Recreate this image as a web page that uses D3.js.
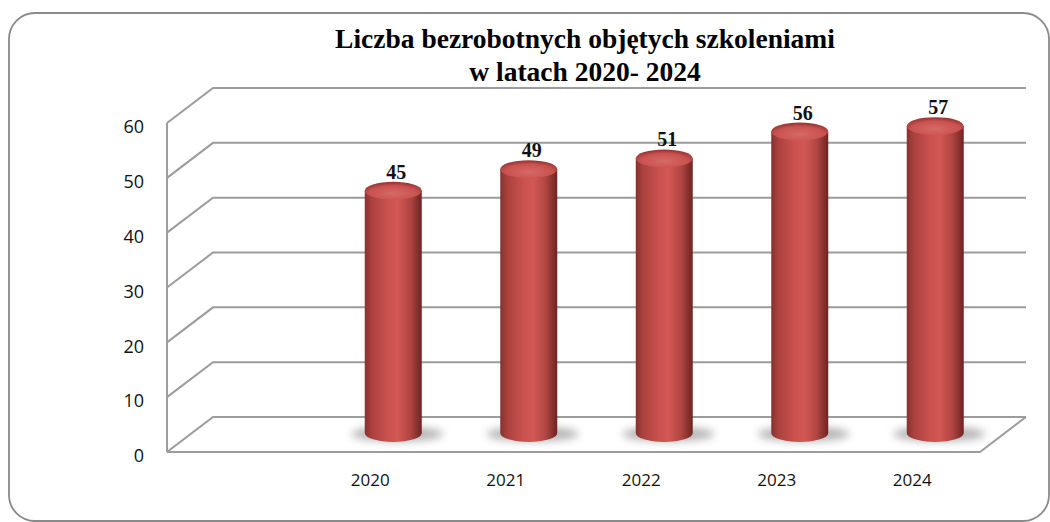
<!DOCTYPE html>
<html>
<head>
<meta charset="utf-8">
<script src="https://cdn.jsdelivr.net/npm/d3@7"></script>
<style>
  body { margin: 0; background: #fff; }
  svg { display: block; }
</style>
</head>
<body>
<div id="chart"></div>
<script>
// data (first category is empty in the original)
const years = ["", "2020", "2021", "2022", "2023", "2024"];
const counts = [null, 45, 49, 51, 56, 57];
const yTicks = [0, 10, 20, 30, 40, 50, 60];
const titleLines = ["Liczba bezrobotnych objętych szkoleniami", "w latach 2020- 2024"];

const width = 1050, height = 522;
const depthX = 46, depthY = -35;   // 3d offset of the back wall
const gridColor = "#9c9c9c";

const svg = d3.select("#chart").append("svg")
    .attr("width", width)
    .attr("height", height);

const defs = svg.append("defs");

// cylinder body shading
const bodyGrad = defs.append("linearGradient").attr("id", "bodyGrad");
[["0%", "#86312f"], ["12%", "#aa413e"], ["40%", "#c9514e"], ["58%", "#d25854"],
 ["80%", "#b04542"], ["100%", "#6d2422"]].forEach(s =>
    bodyGrad.append("stop").attr("offset", s[0]).attr("stop-color", s[1]));

const topGrad = defs.append("radialGradient").attr("id", "topGrad")
    .attr("cx", "50%").attr("cy", "65%").attr("r", "60%");
[["0%", "#d66a66"], ["70%", "#c9524f"], ["100%", "#9a3835"]].forEach(s =>
    topGrad.append("stop").attr("offset", s[0]).attr("stop-color", s[1]));

defs.append("filter").attr("id", "blur")
    .attr("x", "-50%").attr("y", "-100%").attr("width", "200%").attr("height", "300%")
    .append("feGaussianBlur").attr("stdDeviation", 4.5);

// frame
svg.append("rect")
    .attr("x", 9).attr("y", 13)
    .attr("width", 1040).attr("height", 508)
    .attr("rx", 26)
    .attr("fill", "#fff")
    .attr("stroke", "#8a8a8a")
    .attr("stroke-width", 1.8);

// title
svg.append("text")
    .attr("x", 585).attr("y", 48)
    .attr("text-anchor", "middle")
    .style("font-family", "'Liberation Serif', 'DejaVu Serif', serif")
    .style("font-weight", "bold")
    .style("font-size", "27.5px")
    .selectAll("tspan")
    .data(titleLines)
    .join("tspan")
    .attr("x", 585)
    .attr("dy", (d, i) => i === 0 ? 0 : 33)
    .text(d => d);

// scales
const x = d3.scaleBand().domain(years).range([167, 980]).padding(0);
const yFront = d3.scaleLinear().domain([0, 60]).range([452, 123]);
const yBar = d3.scaleLinear().domain([0, 60]).range([433, 110]);

const grid = svg.append("g")
    .attr("fill", "none")
    .attr("stroke", gridColor)
    .attr("stroke-width", 2);

// side wall diagonals + back wall lines
grid.selectAll("polyline.gl")
    .data(yTicks)
    .join("polyline")
    .attr("class", "gl")
    .attr("points", t => {
        const x0 = x.range()[0];
        return [[x0, yFront(t)], [x0 + depthX, yFront(t) + depthY], [x.range()[1] + depthX, yFront(t) + depthY]].join(" ");
    });

// left front edge
grid.append("line")
    .attr("x1", x.range()[0]).attr("x2", x.range()[0])
    .attr("y1", yFront(60)).attr("y2", yFront(0));

// floor front edge
grid.append("polyline")
    .attr("points", [[x.range()[0], yFront(0)], [x.range()[1], yFront(0)],
                     [x.range()[1] + depthX, yFront(0) + depthY]].join(" "));

// y labels
svg.append("g")
    .selectAll("text")
    .data(yTicks)
    .join("text")
    .attr("x", 144)
    .attr("y", t => yFront(t) + 4)
    .attr("dy", "0.35em")
    .attr("text-anchor", "end")
    .style("font-family", "'Open Sans', sans-serif")
    .style("font-size", "18px")
    .attr("fill", "#111")
    .text(t => t);

// x labels
svg.append("g")
    .selectAll("text")
    .data(years)
    .join("text")
    .attr("x", d => x(d) + x.bandwidth() / 2)
    .attr("y", 486)
    .attr("text-anchor", "middle")
    .style("font-family", "'Open Sans', sans-serif")
    .style("font-size", "17px")
    .attr("fill", "#111")
    .text(d => d);

// bars
const barData = years.map((y, i) => ({ year: y, value: counts[i] })).filter(d => d.value != null);
const rx = 28.5, ry = 9;
const cx = d => x(d.year) + x.bandwidth() / 2 + depthX / 2;

// shadows
svg.append("g")
    .selectAll("ellipse")
    .data(barData)
    .join("ellipse")
    .attr("cx", d => cx(d) + 4)
    .attr("cy", yBar(0) + 1)
    .attr("rx", 46)
    .attr("ry", 7)
    .attr("fill", "#7a7a7a")
    .attr("opacity", 0.6)
    .attr("filter", "url(#blur)");

const bars = svg.append("g")
    .selectAll("g")
    .data(barData)
    .join("g");

bars.append("path")
    .attr("d", d => {
        const x0 = cx(d) - rx, x1 = cx(d) + rx;
        const yt = yBar(d.value), yb = yBar(0);
        return `M${x0},${yt} L${x0},${yb} A${rx},${ry} 0 0 0 ${x1},${yb} L${x1},${yt} Z`;
    })
    .attr("fill", "url(#bodyGrad)");

bars.append("ellipse")
    .attr("cx", cx)
    .attr("cy", d => yBar(d.value))
    .attr("rx", rx)
    .attr("ry", ry)
    .attr("fill", "url(#topGrad)");

// value labels
bars.append("text")
    .attr("x", d => cx(d) + 3)
    .attr("y", d => yBar(d.value) - 12)
    .attr("text-anchor", "middle")
    .style("font-family", "'Liberation Serif', serif")
    .style("font-weight", "bold")
    .style("font-size", "20px")
    .attr("fill", "#111")
    .text(d => d.value);
</script>
</body>
</html>
